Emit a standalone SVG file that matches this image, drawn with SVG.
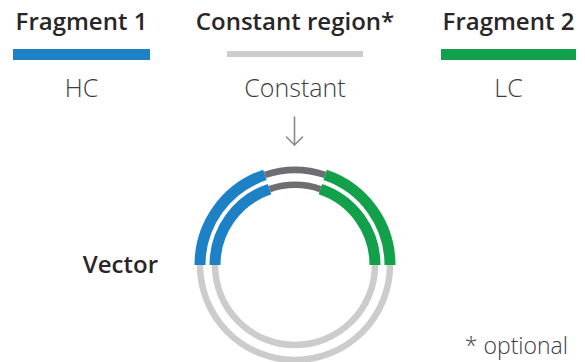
<svg xmlns="http://www.w3.org/2000/svg" width="585" height="362" viewBox="0 0 585 362">
  <style>
    .title { font-family: "Open Sans", Lato, "Liberation Sans", sans-serif; font-weight: 600; font-size: 24px; fill: #2a2628; }
    .sub { font-family: "Open Sans", Lato, "Liberation Sans", sans-serif; font-weight: 300; font-size: 25px; fill: #3d3d3f; }
    .note { font-size: 23px; }
    .blue { stroke: #1f81c5; }
    .green { stroke: #13a04b; }
    .dark { stroke: #6d6e71; }
    .light { stroke: #cccccc; }
    .arc { fill: none; stroke-linecap: butt; }
    .fat { stroke-width: 11; }
    .thin { stroke-width: 6.5; }
  </style>
  <rect width="585" height="362" fill="#ffffff"/>

  <!-- legend: fragment 1 -->
  <g id="fragment1">
    <text class="title" x="81.5" y="30" text-anchor="middle">Fragment 1</text>
    <rect x="13" y="49" width="137" height="11" fill="#1f81c5"/>
    <text class="sub" x="81.5" y="97" text-anchor="middle">HC</text>
  </g>

  <!-- legend: constant region -->
  <g id="constant">
    <text class="title" x="295" y="30" text-anchor="middle">Constant region*</text>
    <rect x="227" y="51" width="136" height="6" fill="#cccccc"/>
    <text class="sub" x="295" y="97" text-anchor="middle">Constant</text>
  </g>

  <!-- legend: fragment 2 -->
  <g id="fragment2">
    <text class="title" x="508.5" y="30" text-anchor="middle">Fragment 2</text>
    <rect x="441" y="49" width="135" height="11" fill="#13a04b"/>
    <text class="sub" x="508.5" y="97" text-anchor="middle">LC</text>
  </g>

  <!-- assembly arrow -->
  <g id="connectors" fill="none" stroke="#8a8a8a" stroke-width="1.6" stroke-linecap="round" stroke-linejoin="round">
    <path d="M294.5,117 V145"/>
    <path d="M286.5,137 L294.5,145 L302.5,137"/>
  </g>

  <!-- vector: two concentric rings centred at (295,265) -->
  <g id="vector">
    <text class="title" x="158" y="273" text-anchor="end">Vector</text>
    <!-- outer ring, r = 95 -->
    <path class="arc thin light" d="M390,265 A95,95 0 0 1 200,265"/>
    <path class="arc thin dark" d="M264.9,174.9 A95,95 0 0 1 325.1,174.9"/>
    <path class="arc fat blue" d="M200,265 A95,95 0 0 1 264.9,174.9"/>
    <path class="arc fat green" d="M325.1,174.9 A95,95 0 0 1 390,265"/>
    <!-- inner ring, r = 80 -->
    <path class="arc thin light" d="M375,265 A80,80 0 0 1 215,265"/>
    <path class="arc thin dark" d="M269.6,189.1 A80,80 0 0 1 320.4,189.1"/>
    <path class="arc fat blue" d="M215,265 A80,80 0 0 1 269.6,189.1"/>
    <path class="arc fat green" d="M320.4,189.1 A80,80 0 0 1 375,265"/>
  </g>

  <!-- footnote -->
  <text class="sub note" x="568" y="354" text-anchor="end">* optional</text>
</svg>
